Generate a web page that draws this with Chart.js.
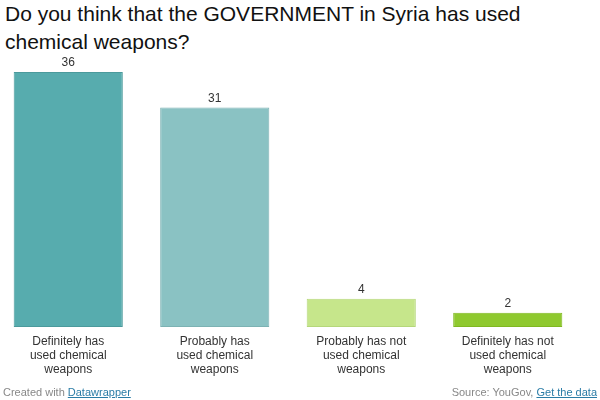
<!DOCTYPE html>
<html lang="en">
  <head>
    <meta charset="UTF-8" />
    <title>Syria chemical weapons poll</title>
    <script src="https://cdn.jsdelivr.net/npm/chart.js"></script>
    <style>
      body {
        margin: 0;
        width: 600px;
        height: 400px;
        position: relative;
        overflow: hidden;
        background: #fff;
        font-family: Arial, "Liberation Sans", sans-serif;
      }
      h1 {
        position: absolute;
        left: 5px;
        top: 0px;
        margin: 0;
        font-size: 21px;
        line-height: 28px;
        font-weight: normal;
        color: #111;
      }
      .chart-box {
        position: absolute;
        left: -5px;
        top: 40px;
        width: 586px;
        height: 350px;
      }
      .footer {
        position: absolute;
        top: 385px;
        font-size: 11px;
        color: #888;
        line-height: 14px;
      }
      .footer a {
        color: #2a7ca6;
      }
      #created { left: 3px; }
      #source { right: 3px; }
    </style>
  </head>
  <body>
    <h1>Do you think that the GOVERNMENT in Syria has used<br />chemical weapons?</h1>
    <div class="chart-box"><canvas id="chart"></canvas></div>
    <div class="footer" id="created">Created with <a href="#">Datawrapper</a></div>
    <div class="footer" id="source">Source: YouGov, <a href="#">Get the data</a></div>

    <script>
      const categories = [
        ["Definitely has", "used chemical", "weapons"],
        ["Probably has", "used chemical", "weapons"],
        ["Probably has not", "used chemical", "weapons"],
        ["Definitely has not", "used chemical", "weapons"],
      ];
      const values = [36, 31, 4, 2];
      const barColors = ["#57acae", "#8ac2c3", "#c6e68b", "#8fc92f"];
      const borderColors = ["#4b9a9c", "#7cb2b3", "#b5d77a", "#80b822"];

      // numbers above the bars
      const valueLabels = {
        id: "valueLabels",
        afterDatasetsDraw(chart) {
          const ctx = chart.ctx;
          const meta = chart.getDatasetMeta(0);
          ctx.save();
          ctx.font = "12px Arial, 'Liberation Sans', sans-serif";
          ctx.fillStyle = "#333";
          ctx.textAlign = "center";
          ctx.textBaseline = "middle";
          meta.data.forEach((bar, i) => {
            ctx.fillText(values[i], bar.x, bar.y - 9);
          });
          ctx.restore();
        },
      };

      new Chart(document.getElementById("chart"), {
        type: "bar",
        data: {
          labels: categories,
          datasets: [
            {
              data: values,
              backgroundColor: barColors,
              borderColor: borderColors,
              borderWidth: 1,
              borderSkipped: false,
              barPercentage: 0.745,
              categoryPercentage: 1,
            },
          ],
        },
        options: {
          responsive: true,
          maintainAspectRatio: false,
          animation: false,
          layout: { padding: { top: 32, left: 0, right: 0, bottom: 0 } },
          plugins: {
            legend: { display: false },
            tooltip: { enabled: false },
          },
          scales: {
            x: {
              grid: { display: false },
              border: { display: false },
              ticks: {
                color: "#333",
                padding: -1,
                font: { family: "Arial, 'Liberation Sans', sans-serif", size: 12, lineHeight: 1.2 },
                maxRotation: 0,
                autoSkip: false,
              },
              afterFit(scale) {
                scale.height = 63;
              },
            },
            y: {
              display: false,
              min: 0,
              max: 36,
            },
          },
        },
        plugins: [valueLabels],
      });
    </script>
  </body>
</html>
